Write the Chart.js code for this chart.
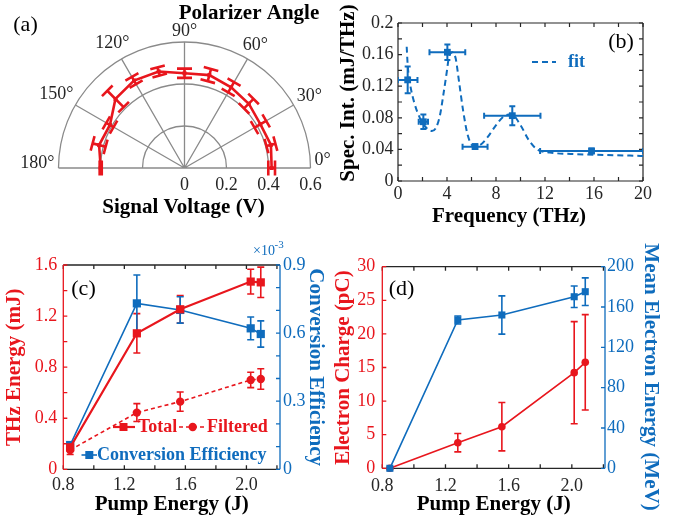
<!DOCTYPE html>
<html><head><meta charset="utf-8">
<script src="https://cdn.jsdelivr.net/npm/chart.js@4"></script>
<style>
html,body{margin:0;padding:0;background:#fff;}
#wrap{position:relative;width:674px;height:521px;overflow:hidden;background:#fff}
canvas{position:absolute;left:0;top:0}
</style></head><body>
<div id="wrap">
<canvas id="ca" width="674" height="521"></canvas>
<canvas id="cb" width="674" height="521"></canvas>
<canvas id="cc" width="674" height="521"></canvas>
<canvas id="cd" width="674" height="521"></canvas>
</div>
<script>
// ---------- data ----------
// (a) polar: signal voltage vs polarizer angle
const polarAngles = [0,15,30,45,60,75,90,105,120,135,150,165,180];
const polarSignal = [0.415,0.426,0.417,0.433,0.444,0.458,0.451,0.476,0.481,0.465,0.410,0.421,0.399];
const polarError  = [0.016,0.022,0.032,0.032,0.028,0.03,0.022,0.02,0.02,0.055,0.02,0.032,0.005];
const polarRingTicks = [0.2,0.4,0.6];
const polarRingLabels = ['0','0.2','0.4','0.6'];
const polarAngleTicks = [0,30,60,90,120,150,180];

// (b) spectral intensity
const specFreq    = [0.79,2.07,4.03,6.29,9.33,15.8];
const specFreqErr = [0.8,0.38,1.46,1.02,2.3,4.2];
const specInt     = [0.128,0.075,0.163,0.0435,0.0827,0.038];
const specIntErr  = [0.017,0.0093,0.0099,0.003,0.012,0.003];
const fitFreq = [0.71,0.79,1.0,1.35,1.81,2.35,2.76,3.08,3.43,3.70,3.98,4.16,4.44,4.71,4.98,5.33,5.69,6.15,6.69,7.24,7.92,8.6,9.28,9.99,10.67,11.35,12.4,14.1,16.8,20];
const fitInt  = [0.170,0.147,0.1215,0.098,0.079,0.0667,0.0633,0.0667,0.0835,0.109,0.138,0.157,0.163,0.155,0.126,0.0877,0.0582,0.0443,0.0456,0.054,0.0688,0.0814,0.0844,0.071,0.052,0.040,0.036,0.0342,0.033,0.0317];
const bXTicks = [0,4,8,12,16,20];
const bYTicks = [0,0.04,0.08,0.12,0.16,0.2];

// (c) THz energy & conversion efficiency
const pumpC          = [0.845,1.282,1.566,2.028,2.094];
const thzTotal       = [0.172,1.065,1.253,1.47,1.464];
const thzTotalErr    = [0.03,0.154,0.107,0.097,0.119];
const thzFiltered    = [0.151,0.444,0.53,0.70,0.707];
const thzFilteredErr = [0.035,0.07,0.075,0.06,0.08];
const convEff        = [0.107,0.731,0.702,0.621,0.596];   // x10^-3
const convEffErr     = [0.012,0.125,0.058,0.05,0.058];
const pumpTicks   = [0.8,1.2,1.6,2.0];
const cLeftTicks  = [0,0.4,0.8,1.2,1.6];
const cRightTicks = [0,0.3,0.6,0.9];

// (d) electron charge & mean energy
const pumpD          = [0.848,1.278,1.557,2.015,2.085];
const charge         = [0,3.81,6.19,14.23,15.77];
const chargeErr      = [0,1.37,3.6,7.6,7.1];
const meanEnergy     = [0,147.1,152.1,170.2,175.2];
const meanEnergyErr  = [0,4,19,10.7,13.7];
const dLeftTicks  = [0,5,10,15,20,25,30];
const dRightTicks = [0,40,80,120,160,200];

// ---------- styles ----------
const RED = '#e8161d', BLUE = '#0f6cbd', AX = '#262626', GRID = '#8a8a8a';
const SERIF = "'Liberation Serif','Times New Roman',serif";
const tickFont = () => ({family:SERIF, size:18});
const titleFont = () => ({family:SERIF, size:21, weight:'bold'});
const pts = (xs, ys) => xs.map((x,i) => ({x, y:ys[i]}));
const fixedTicks = arr => s => { s.ticks = arr.map(v => ({value:v})); };
const num = v => String(parseFloat(Number(v).toFixed(3)));

// ---------- plugins ----------
const errorBars = {
  id:'errorBars',
  beforeDatasetsDraw(chart){
    const ctx = chart.ctx, a = chart.chartArea;
    chart.data.datasets.forEach((ds, i) => {
      if (!ds.errY && !ds.errX && !ds.errR) return;
      const meta = chart.getDatasetMeta(i);
      const xs = chart.scales[meta.xAxisID], ys = chart.scales[meta.yAxisID];
      ctx.save();
      if (ds.errClip) { ctx.beginPath(); ctx.rect(a.left, a.top, a.right-a.left, a.bottom-a.top); ctx.clip(); }
      ctx.strokeStyle = ds.borderColor; ctx.lineWidth = ds.errWidth || 1.5; ctx.setLineDash([]);
      const cap = ds.errCap || 3;
      ctx.beginPath();
      ds.data.forEach((p, j) => {
        const px = xs.getPixelForValue(p.x), py = ys.getPixelForValue(p.y);
        if (ds.errY && ds.errY[j]) {
          const y1 = ys.getPixelForValue(p.y - ds.errY[j]), y2 = ys.getPixelForValue(p.y + ds.errY[j]);
          ctx.moveTo(px, y1); ctx.lineTo(px, y2);
          ctx.moveTo(px-cap, y1); ctx.lineTo(px+cap, y1);
          ctx.moveTo(px-cap, y2); ctx.lineTo(px+cap, y2);
        }
        if (ds.errX && ds.errX[j]) {
          const x1 = xs.getPixelForValue(p.x - ds.errX[j]), x2 = xs.getPixelForValue(p.x + ds.errX[j]);
          ctx.moveTo(x1, py); ctx.lineTo(x2, py);
          ctx.moveTo(x1, py-cap); ctx.lineTo(x1, py+cap);
          ctx.moveTo(x2, py-cap); ctx.lineTo(x2, py+cap);
        }
        if (ds.errR && ds.errR[j]) {
          const th = ds.theta[j]*Math.PI/180, c = Math.cos(th), s = Math.sin(th);
          const r = ds.rVals[j], e = ds.errR[j];
          const ix = xs.getPixelForValue((r-e)*c), iy = ys.getPixelForValue((r-e)*s);
          const ox = xs.getPixelForValue((r+e)*c), oy = ys.getPixelForValue((r+e)*s);
          ctx.moveTo(ix, iy); ctx.lineTo(ox, oy);
          ctx.moveTo(ix - cap*s, iy - cap*c); ctx.lineTo(ix + cap*s, iy + cap*c);
          ctx.moveTo(ox - cap*s, oy - cap*c); ctx.lineTo(ox + cap*s, oy + cap*c);
        }
      });
      ctx.stroke();
      ctx.restore();
    });
  }
};

const frame = {
  id:'frame',
  beforeDatasetsDraw(chart, args, o){
    if (!o.sides) return;
    const ctx = chart.ctx, a = chart.chartArea, L = o.len || 4;
    ctx.save(); ctx.lineWidth = o.lineWidth || 1.2; ctx.setLineDash([]);
    for (const s of o.sides) {
      const sc = chart.scales[s.scale];
      ctx.strokeStyle = s.color; ctx.beginPath();
      if (s.side === 'left')   { ctx.moveTo(a.left, a.top); ctx.lineTo(a.left, a.bottom); }
      if (s.side === 'right')  { ctx.moveTo(a.right, a.top); ctx.lineTo(a.right, a.bottom); }
      if (s.side === 'top')    { ctx.moveTo(a.left, a.top); ctx.lineTo(a.right, a.top); }
      if (s.side === 'bottom') { ctx.moveTo(a.left, a.bottom); ctx.lineTo(a.right, a.bottom); }
      for (let k = 0; ; k++) {
        const v = sc.min + k*s.step;
        if (v > sc.max + 1e-9) break;
        const p = sc.getPixelForValue(v);
        if (s.side === 'left')   { ctx.moveTo(a.left, p); ctx.lineTo(a.left + L, p); }
        if (s.side === 'right')  { ctx.moveTo(a.right, p); ctx.lineTo(a.right - L, p); }
        if (s.side === 'top')    { ctx.moveTo(p, a.top); ctx.lineTo(p, a.top + L); }
        if (s.side === 'bottom') { ctx.moveTo(p, a.bottom); ctx.lineTo(p, a.bottom - L); }
      }
      ctx.stroke();
    }
    ctx.restore();
  }
};

const texts = {
  id:'texts',
  afterDraw(chart, args, o){
    const ctx = chart.ctx;
    for (const t of (o.items || [])) {
      ctx.save();
      ctx.font = t.font; ctx.fillStyle = t.color || '#000';
      ctx.textAlign = t.align || 'center'; ctx.textBaseline = t.baseline || 'middle';
      ctx.translate(t.x, t.y);
      if (t.rot) ctx.rotate(t.rot*Math.PI/180);
      ctx.fillText(t.text, 0, 0);
      ctx.restore();
    }
    for (const m of (o.marks || [])) {
      ctx.save();
      ctx.strokeStyle = m.color; ctx.fillStyle = m.color; ctx.lineWidth = m.width || 1.5;
      ctx.setLineDash(m.dash || []);
      ctx.beginPath(); ctx.moveTo(m.x1, m.y); ctx.lineTo(m.x2, m.y); ctx.stroke();
      ctx.setLineDash([]);
      if (m.marker === 'rect') { ctx.fillRect(m.mx - m.ms, m.y - m.ms, 2*m.ms, 2*m.ms); }
      if (m.marker === 'circle') { ctx.beginPath(); ctx.arc(m.mx, m.y, m.ms, 0, 2*Math.PI); ctx.fill(); }
      ctx.restore();
    }
  }
};

const polarGrid = {
  id:'polarGrid',
  beforeDatasetsDraw(chart){
    const {ctx, scales:{x, y}} = chart;
    const cx = x.getPixelForValue(0), cy = y.getPixelForValue(0);
    const k = x.getPixelForValue(1) - cx;
    const rMax = polarRingTicks[polarRingTicks.length-1];
    ctx.save(); ctx.strokeStyle = GRID; ctx.lineWidth = 1.3;
    for (const r of polarRingTicks) { ctx.beginPath(); ctx.arc(cx, cy, r*k, Math.PI, 2*Math.PI); ctx.stroke(); }
    ctx.beginPath();
    for (const ang of polarAngleTicks) {
      const th = ang*Math.PI/180;
      ctx.moveTo(cx, cy);
      ctx.lineTo(x.getPixelForValue(rMax*Math.cos(th)), y.getPixelForValue(rMax*Math.sin(th)));
    }
    ctx.stroke();
    // angle labels: box placed just outside the outer ring
    ctx.fillStyle = AX; ctx.font = '18px ' + SERIF; ctx.textAlign = 'center'; ctx.textBaseline = 'middle';
    for (const ang of polarAngleTicks) {
      const th = ang*Math.PI/180, c = Math.cos(th), s = Math.sin(th);
      const label = ang + '°';
      const w = ctx.measureText(label).width;
      const rp = rMax*k + 4 + Math.abs(c)*w/2 + Math.abs(s)*6.5;
      let lx = cx + rp*c, ly = cy - rp*s;
      if (ang === 0) ly -= 8;
      if (ang === 180) ly -= 5;
      ctx.fillText(label, lx, ly);
    }
    const ringVals = [0].concat(polarRingTicks);
    ringVals.forEach((r, i) => ctx.fillText(polarRingLabels[i], x.getPixelForValue(r), cy + 17));
    ctx.restore();
  }
};

Chart.defaults.font.family = SERIF;

// ---------- (a) polar ----------
new Chart(document.getElementById('ca'), {
  type:'scatter',
  data:{ datasets:[{
    data: polarAngles.map((a,i) => ({x: polarSignal[i]*Math.cos(a*Math.PI/180), y: polarSignal[i]*Math.sin(a*Math.PI/180)})),
    theta: polarAngles, rVals: polarSignal, errR: polarError, errCap: 7.5, errWidth: 2.6,
    showLine:true, borderColor:RED, backgroundColor:RED, borderWidth:2.6,
    pointStyle:'rect', pointRadius:2.8, pointBorderWidth:0, clip:false
  }]},
  options:{
    responsive:false, animation:false, events:[],
    layout:{padding:{left:58.5, right:363.5, top:42, bottom:353}},
    scales:{ x:{type:'linear', min:-0.6, max:0.6, display:false}, y:{type:'linear', min:0, max:0.6, display:false} },
    plugins:{ legend:{display:false}, tooltip:{enabled:false},
      texts:{ items:[
        {text:'(a)', x:25.5, y:25, font:'22px '+SERIF, color:'#000'},
        {text:'Polarizer Angle', x:249, y:14, font:'bold 21px '+SERIF, color:'#000'},
        {text:'Signal Voltage (V)', x:183.5, y:208, font:'bold 21px '+SERIF, color:'#000'}
      ]}
    }
  },
  plugins:[polarGrid, errorBars, texts]
});

// ---------- (b) spectrum ----------
new Chart(document.getElementById('cb'), {
  type:'scatter',
  data:{ datasets:[
    { data: pts(specFreq, specInt), errX: specFreqErr, errY: specIntErr, errClip:true, errCap:3, errWidth:2,
      borderColor:BLUE, backgroundColor:BLUE, pointStyle:'rect', pointRadius:4.8, pointBorderWidth:0, showLine:false },
    { data: pts(fitFreq, fitInt), showLine:true, borderColor:BLUE, borderWidth:2, borderDash:[6,4],
      pointRadius:0, cubicInterpolationMode:'monotone' }
  ]},
  options:{
    responsive:false, animation:false, events:[],
    layout:{padding:{left:336.4, right:31, top:23, bottom:291.7}},
    scales:{
      x:{type:'linear', min:0, max:20, afterBuildTicks: fixedTicks(bXTicks),
         ticks:{callback:num, color:AX, font:tickFont(), padding:2.5, maxRotation:0, autoSkip:false},
         grid:{display:false, drawTicks:false}, border:{display:false},
         title:{display:false},
         afterFit: s => { s.height = 48.3; s.paddingLeft = 0; s.paddingRight = 0; }},
      y:{type:'linear', position:'left', min:0, max:0.2, afterBuildTicks: fixedTicks(bYTicks),
         ticks:{callback:num, color:AX, font:tickFont(), padding:4.5, autoSkip:false},
         grid:{display:false, drawTicks:false}, border:{display:false},
         title:{display:false},
         afterFit: s => { s.width = 61.6; s.paddingTop = 0; s.paddingBottom = 0; }}
    },
    plugins:{ legend:{display:false}, tooltip:{enabled:false},
      frame:{ lineWidth:1.2, len:4, sides:[
        {side:'left', scale:'y', color:AX, step:0.02}, {side:'right', scale:'y', color:AX, step:0.02},
        {side:'bottom', scale:'x', color:AX, step:2}, {side:'top', scale:'x', color:AX, step:2}]},
      texts:{ items:[
        {text:'(b)', x:621, y:42, font:'22px '+SERIF, color:'#000'},
        {text:'fit', x:568, y:62, font:'bold 18px '+SERIF, color:BLUE, align:'left'},
        {text:'Frequency (THz)', x:509, y:216.5, font:'bold 21px '+SERIF, color:'#000'},
        {text:'Spec. Int. (mJ/THz)', x:349, y:93, rot:-90, font:'bold 21px '+SERIF, color:'#000'}
      ], marks:[ {x1:532, x2:556, y:62, color:BLUE, width:2, dash:[6,4]} ]}
    }
  },
  plugins:[frame, errorBars, texts]
});

// ---------- (c) THz energy ----------
new Chart(document.getElementById('cc'), {
  type:'scatter',
  data:{ datasets:[
    { data: pts(pumpC, thzTotal), errY: thzTotalErr, errCap:3.5, errWidth:1.6, yAxisID:'y',
      showLine:true, borderColor:RED, backgroundColor:RED, borderWidth:2.2,
      pointStyle:'rect', pointRadius:5.8, pointBorderWidth:0, clip:false },
    { data: pts(pumpC, thzFiltered), errY: thzFilteredErr, errCap:3.5, errWidth:1.6, yAxisID:'y',
      showLine:true, borderColor:RED, backgroundColor:RED, borderWidth:1.6, borderDash:[4,3],
      pointStyle:'circle', pointRadius:4.2, pointBorderWidth:0, clip:false },
    { data: pts(pumpC, convEff), errY: convEffErr, errCap:3.5, errWidth:1.6, yAxisID:'y2',
      showLine:true, borderColor:BLUE, backgroundColor:BLUE, borderWidth:1.6,
      pointStyle:'rect', pointRadius:5.8, pointBorderWidth:0, clip:false }
  ]},
  options:{
    responsive:false, animation:false, events:[],
    layout:{padding:{left:2.4, right:346.4, top:265, bottom:3.4}},
    scales:{
      x:{type:'linear', min:0.8, max:2.22, afterBuildTicks: fixedTicks(pumpTicks),
         ticks:{callback:v => Number(v).toFixed(1), color:AX, font:tickFont(), padding:5, maxRotation:0, autoSkip:false},
         grid:{display:false, drawTicks:false}, border:{display:false},
         title:{display:true, text:'Pump Energy (J)', color:'#000', font:titleFont(), padding:0},
         afterFit: s => { s.height = 48.3; s.paddingLeft = 0; s.paddingRight = 0; }},
      y:{type:'linear', position:'left', min:0, max:1.6, afterBuildTicks: fixedTicks(cLeftTicks),
         ticks:{callback:num, color:RED, font:tickFont(), padding:6, autoSkip:false},
         grid:{display:false, drawTicks:false}, border:{display:false},
         title:{display:true, text:'THz Energy (mJ)', color:RED, font:titleFont(), padding:0},
         afterFit: s => { s.width = 60.9; s.paddingTop = 0; s.paddingBottom = 0; }},
      y2:{type:'linear', position:'right', min:0, max:0.9, afterBuildTicks: fixedTicks(cRightTicks),
         ticks:{callback:num, color:BLUE, font:tickFont(), padding:3, autoSkip:false},
         grid:{display:false, drawTicks:false}, border:{display:false},
         title:{display:true, text:'Conversion Efficiency', color:BLUE, font:titleFont(), padding:0},
         afterFit: s => { s.width = 47.6; s.paddingTop = 0; s.paddingBottom = 0; }}
    },
    plugins:{ legend:{display:false}, tooltip:{enabled:false},
      frame:{ lineWidth:1.3, len:4, sides:[
        {side:'bottom', scale:'x', color:AX, step:0.2}, {side:'top', scale:'x', color:AX, step:0.2},
        {side:'left', scale:'y', color:RED, step:0.2}, {side:'right', scale:'y2', color:BLUE, step:0.1}]},
      texts:{ items:[
        {text:'(c)', x:83.5, y:289, font:'22px '+SERIF, color:'#000'},
        {text:'×10', x:253, y:251, font:'14px '+SERIF, color:BLUE, align:'left'},
        {text:'-3', x:274.5, y:245, font:'11px '+SERIF, color:BLUE, align:'left'},
        {text:'Total', x:138, y:427, font:'bold 18px '+SERIF, color:RED, align:'left'},
        {text:'Filtered', x:207, y:427, font:'bold 18px '+SERIF, color:RED, align:'left'},
        {text:'Conversion Efficiency', x:97, y:455, font:'bold 18px '+SERIF, color:BLUE, align:'left'}
      ], marks:[
        {x1:113, x2:135, y:427, color:RED, width:2.2, marker:'rect', mx:123.5, ms:4},
        {x1:179, x2:206, y:427, color:RED, width:1.6, dash:[4,3], marker:'circle', mx:192.7, ms:4.2},
        {x1:81.5, x2:97, y:455, color:BLUE, width:1.6, marker:'rect', mx:89.3, ms:4}
      ]}
    }
  },
  plugins:[frame, errorBars, texts]
});

// ---------- (d) electron charge & energy ----------
new Chart(document.getElementById('cd'), {
  type:'scatter',
  data:{ datasets:[
    { data: pts(pumpD, meanEnergy), errY: meanEnergyErr, errCap:3.5, errWidth:1.6, yAxisID:'y2',
      showLine:true, borderColor:BLUE, backgroundColor:BLUE, borderWidth:1.6,
      pointStyle:'rect', pointRadius:5, pointBorderWidth:0, clip:false },
    { data: pts(pumpD, charge), errY: chargeErr, errCap:3.5, errWidth:1.6, yAxisID:'y',
      showLine:true, borderColor:RED, backgroundColor:RED, borderWidth:1.6,
      pointStyle:'circle', pointRadius:3.8, pointBorderWidth:0, clip:false }
  ]},
  options:{
    responsive:false, animation:false, events:[],
    layout:{padding:{left:331.1, right:11.1, top:266.7, bottom:3.4}},
    scales:{
      x:{type:'linear', min:0.8, max:2.21, afterBuildTicks: fixedTicks(pumpTicks),
         ticks:{callback:v => Number(v).toFixed(1), color:AX, font:tickFont(), padding:7, maxRotation:0, autoSkip:false},
         grid:{display:false, drawTicks:false}, border:{display:false},
         title:{display:true, text:'Pump Energy (J)', color:'#000', font:titleFont(), padding:0},
         afterFit: s => { s.height = 49.3; s.paddingLeft = 0; s.paddingRight = 0; }},
      y:{type:'linear', position:'left', min:0, max:30, afterBuildTicks: fixedTicks(dLeftTicks),
         ticks:{callback:num, color:RED, font:tickFont(), padding:7, autoSkip:false},
         grid:{display:false, drawTicks:false}, border:{display:false},
         title:{display:true, text:'Electron Charge (pC)', color:RED, font:titleFont(), padding:0},
         afterFit: s => { s.width = 51.2; s.paddingTop = 0; s.paddingBottom = 0; }},
      y2:{type:'linear', position:'right', min:0, max:200, afterBuildTicks: fixedTicks(dRightTicks),
         ticks:{callback:num, color:BLUE, font:tickFont(), padding:2, autoSkip:false},
         grid:{display:false, drawTicks:false}, border:{display:false},
         title:{display:false},
         afterFit: s => { s.width = 57.9; s.paddingTop = 0; s.paddingBottom = 0; }}
    },
    plugins:{ legend:{display:false}, tooltip:{enabled:false},
      frame:{ lineWidth:1.3, len:4, sides:[
        {side:'bottom', scale:'x', color:AX, step:0.2}, {side:'top', scale:'x', color:AX, step:0.2},
        {side:'left', scale:'y', color:RED, step:5}, {side:'right', scale:'y2', color:BLUE, step:40}]},
      texts:{ items:[
        {text:'(d)', x:401.5, y:289, font:'22px '+SERIF, color:'#000'},
        {text:'Mean Electron Energy (MeV)', x:650.3, y:377, rot:90, font:'bold 21px '+SERIF, color:BLUE}
      ]}
    }
  },
  plugins:[frame, errorBars, texts]
});
</script>
</body></html>
